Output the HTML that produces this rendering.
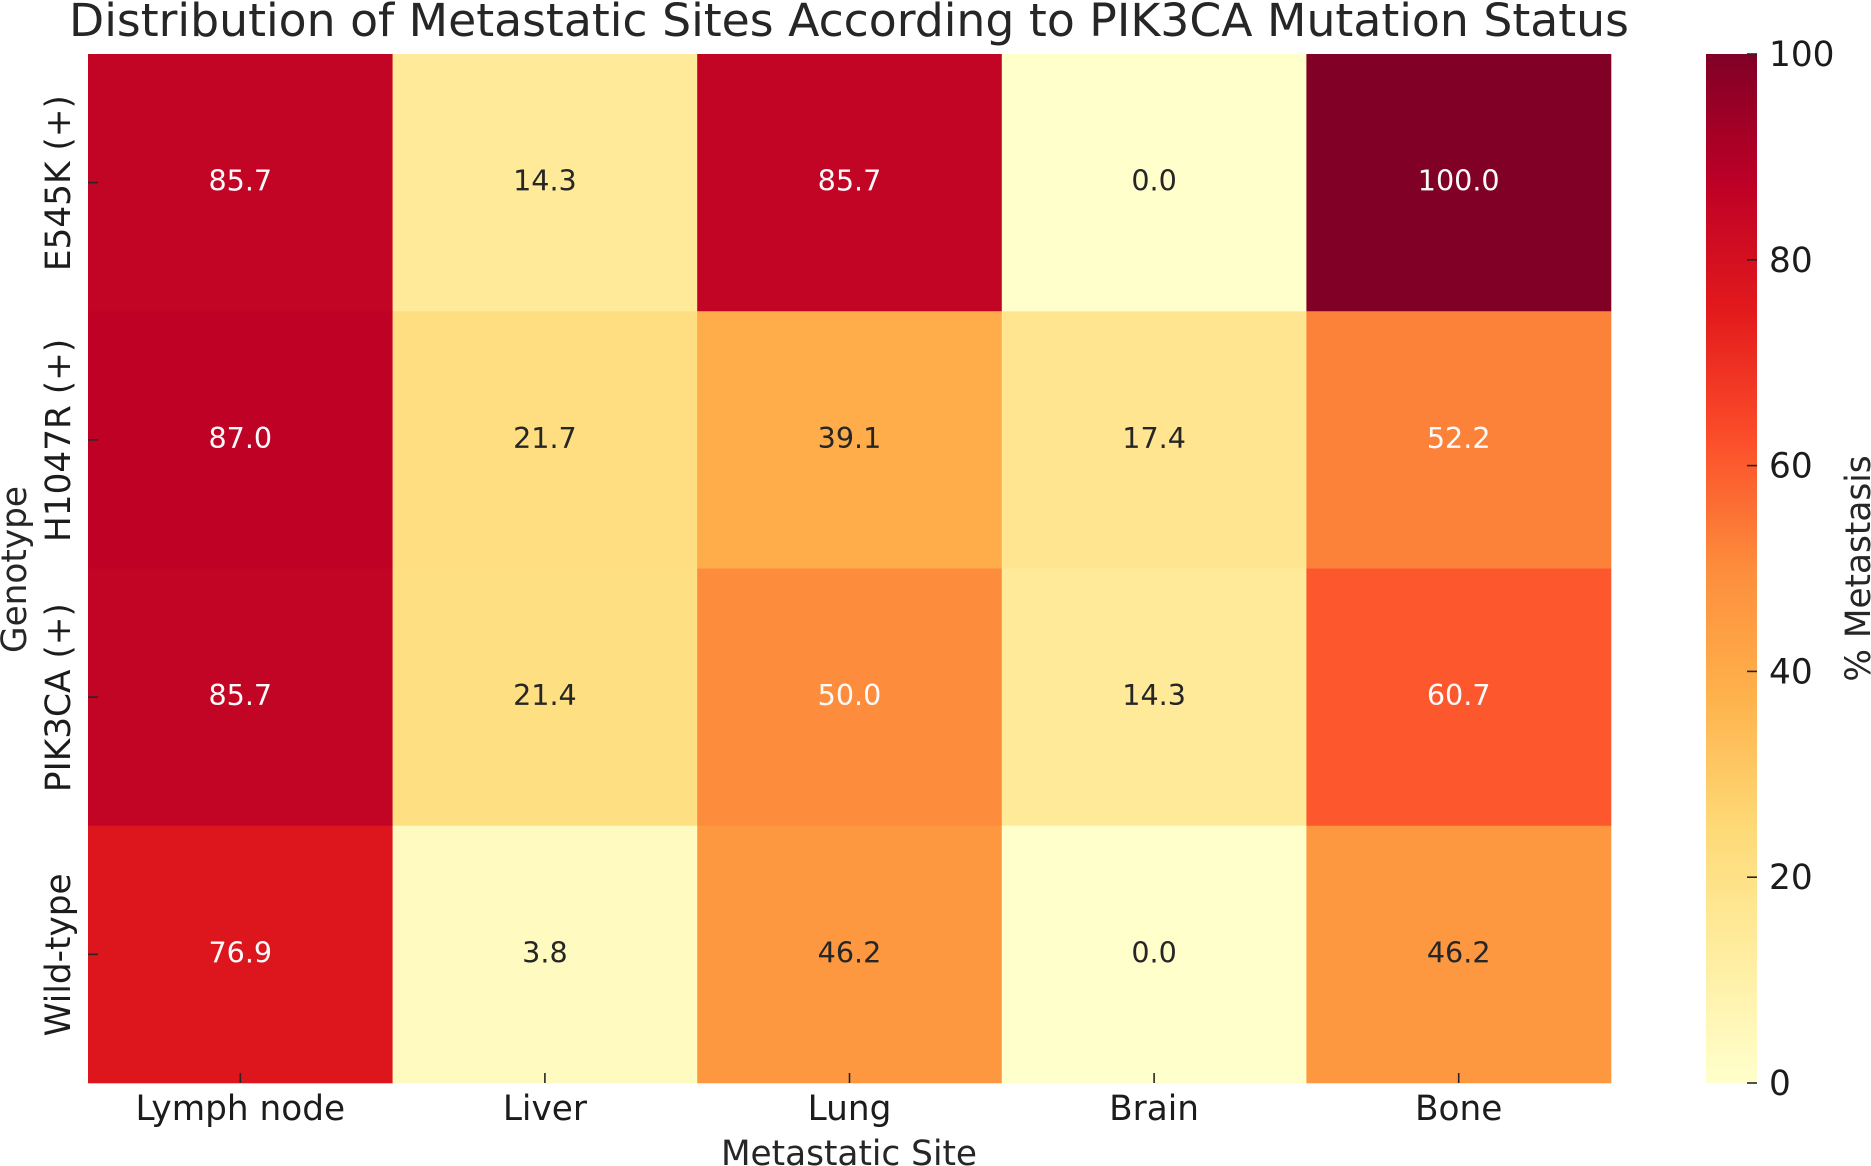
<!DOCTYPE html>
<html lang="en">
<head>
<meta charset="utf-8">
<title>Distribution of Metastatic Sites According to PIK3CA Mutation Status</title>
<style>
html,body{margin:0;padding:0;background:#fff;width:1871px;height:1166px;overflow:hidden}
svg{display:block}
text{font-family:"DejaVu Sans","Liberation Sans",sans-serif;fill:#262626}
#xticks text,#yticks text,#colorbar text{fill:#1c1c1c}
</style>
</head>
<body>
<svg id="chart" xmlns="http://www.w3.org/2000/svg" width="1871" height="1166" viewBox="0 0 1871 1166">
<defs><linearGradient id="cbar-gradient" x1="0" y1="1" x2="0" y2="0"></linearGradient></defs>
<rect width="1871" height="1166" fill="#fff"></rect>
<text x="849" y="36" text-anchor="middle" font-size="45.7">Distribution of Metastatic Sites According to PIK3CA Mutation Status</text>
<text transform="translate(26,569.5) rotate(-90)" text-anchor="middle" font-size="34.3">Genotype</text>
<text x="849" y="1165" text-anchor="middle" font-size="34.3">Metastatic Site</text>
<text transform="translate(1870,568.5) rotate(-90)" text-anchor="middle" font-size="34.3">% Metastasis</text>
<g id="cells"></g>
<g id="annots"></g>
<g id="xticks"></g>
<g id="yticks"></g>
<g id="colorbar"></g>
</svg>
<script>
const sites = ["Lymph node", "Liver", "Lung", "Brain", "Bone"];
const genotypes = ["E545K (+)", "H1047R (+)", "PIK3CA (+)", "Wild-type"];
const e545kValues = [85.7, 14.3, 85.7, 0.0, 100.0];
const h1047rValues = [87.0, 21.7, 39.1, 17.4, 52.2];
const pik3caValues = [85.7, 21.4, 50.0, 14.3, 60.7];
const wildTypeValues = [76.9, 3.8, 46.2, 0.0, 46.2];
const colorbarTicks = [0, 20, 40, 60, 80, 100];
const rows = [e545kValues, h1047rValues, pik3caValues, wildTypeValues];

const NS = "http://www.w3.org/2000/svg";
const plot = {left: 88, right: 1611, top: 54, bottom: 1083};
const bar = {left: 1706, right: 1757};
const ramp = ["#ffffcc","#ffeda0","#fed976","#feb24c","#fd8d3c","#fc4e2a","#e31a1c","#bd0026","#800026"];
const domainMax = 100;

function make(tag, attrs, parent, content) {
  const el = document.createElementNS(NS, tag);
  for (const k in attrs) el.setAttribute(k, attrs[k]);
  if (content !== undefined) el.textContent = content;
  parent.appendChild(el);
  return el;
}
function colorFor(v) {
  const t = Math.max(0, Math.min(1, v / domainMax)) * (ramp.length - 1);
  const i = Math.min(Math.floor(t), ramp.length - 2);
  const f = t - i;
  const parse = h => [1, 3, 5].map(p => parseInt(h.substr(p, 2), 16));
  const a = parse(ramp[i]), b = parse(ramp[i + 1]);
  return "rgb(" + a.map((c, n) => Math.round(c + (b[n] - c) * f)).join(",") + ")";
}
const cellW = (plot.right - plot.left) / sites.length;
const cellH = (plot.bottom - plot.top) / genotypes.length;
const xAt = i => plot.left + cellW * i;
const yAt = i => plot.top + cellH * i;
const barY = v => plot.bottom - (plot.bottom - plot.top) * v / domainMax;

const cellsG = document.getElementById("cells");
const annotsG = document.getElementById("annots");
rows.forEach((row, r) => {
  row.forEach((v, c) => {
    const rect = make("rect", {x: xAt(c), y: yAt(r), width: cellW + 0.3, height: cellH + 0.3, fill: colorFor(v)}, cellsG);
    
    
    const label = make("text", {x: xAt(c) + cellW / 2, y: yAt(r) + cellH / 2 + 8, "text-anchor": "middle", "font-size": 28.6}, annotsG, v.toFixed(1));
    label.style.fill = v >= 50 ? "#fafafa" : "#262626";
    
    
  });
});

const xG = document.getElementById("xticks");
sites.forEach((s, i) => {
  const x = xAt(i) + cellW / 2;
  const tick = make("line", {x1: x, x2: x, y1: plot.bottom - 10, y2: plot.bottom, stroke: "#262626", "stroke-width": 1.6}, xG);
  
  
  const label = make("text", {x: x, y: 1120, "text-anchor": "middle", "font-size": 34.3}, xG, s);
  
  
});

const yG = document.getElementById("yticks");
genotypes.forEach((g, i) => {
  const y = yAt(i) + cellH / 2;
  const tick = make("line", {x1: plot.left, x2: plot.left + 10, y1: y, y2: y, stroke: "#262626", "stroke-width": 1.6}, yG);
  
  
  const label = make("text", {transform: "translate(70," + (y + 0.5) + ") rotate(-90)", "text-anchor": "middle", "font-size": 34.3}, yG, g);
  
  
});

const grad = document.getElementById("cbar-gradient");
ramp.forEach((c, i) => {
  make("stop", {offset: i / (ramp.length - 1), "stop-color": c}, grad);
});
const cbG = document.getElementById("colorbar");
const cbRect = make("rect", {x: bar.left, y: plot.top, width: bar.right - bar.left, height: plot.bottom - plot.top, fill: "url(#cbar-gradient)"}, cbG);


colorbarTicks.forEach(v => {
  const y = barY(v);
  const tick = make("line", {x1: bar.right - 10, x2: bar.right, y1: y, y2: y, stroke: "#262626", "stroke-width": 1.6}, cbG);
  
  
  const label = make("text", {x: 1769, y: y + 12, "font-size": 34.3}, cbG, String(v));
  
  
});
</script>
</body>
</html>
